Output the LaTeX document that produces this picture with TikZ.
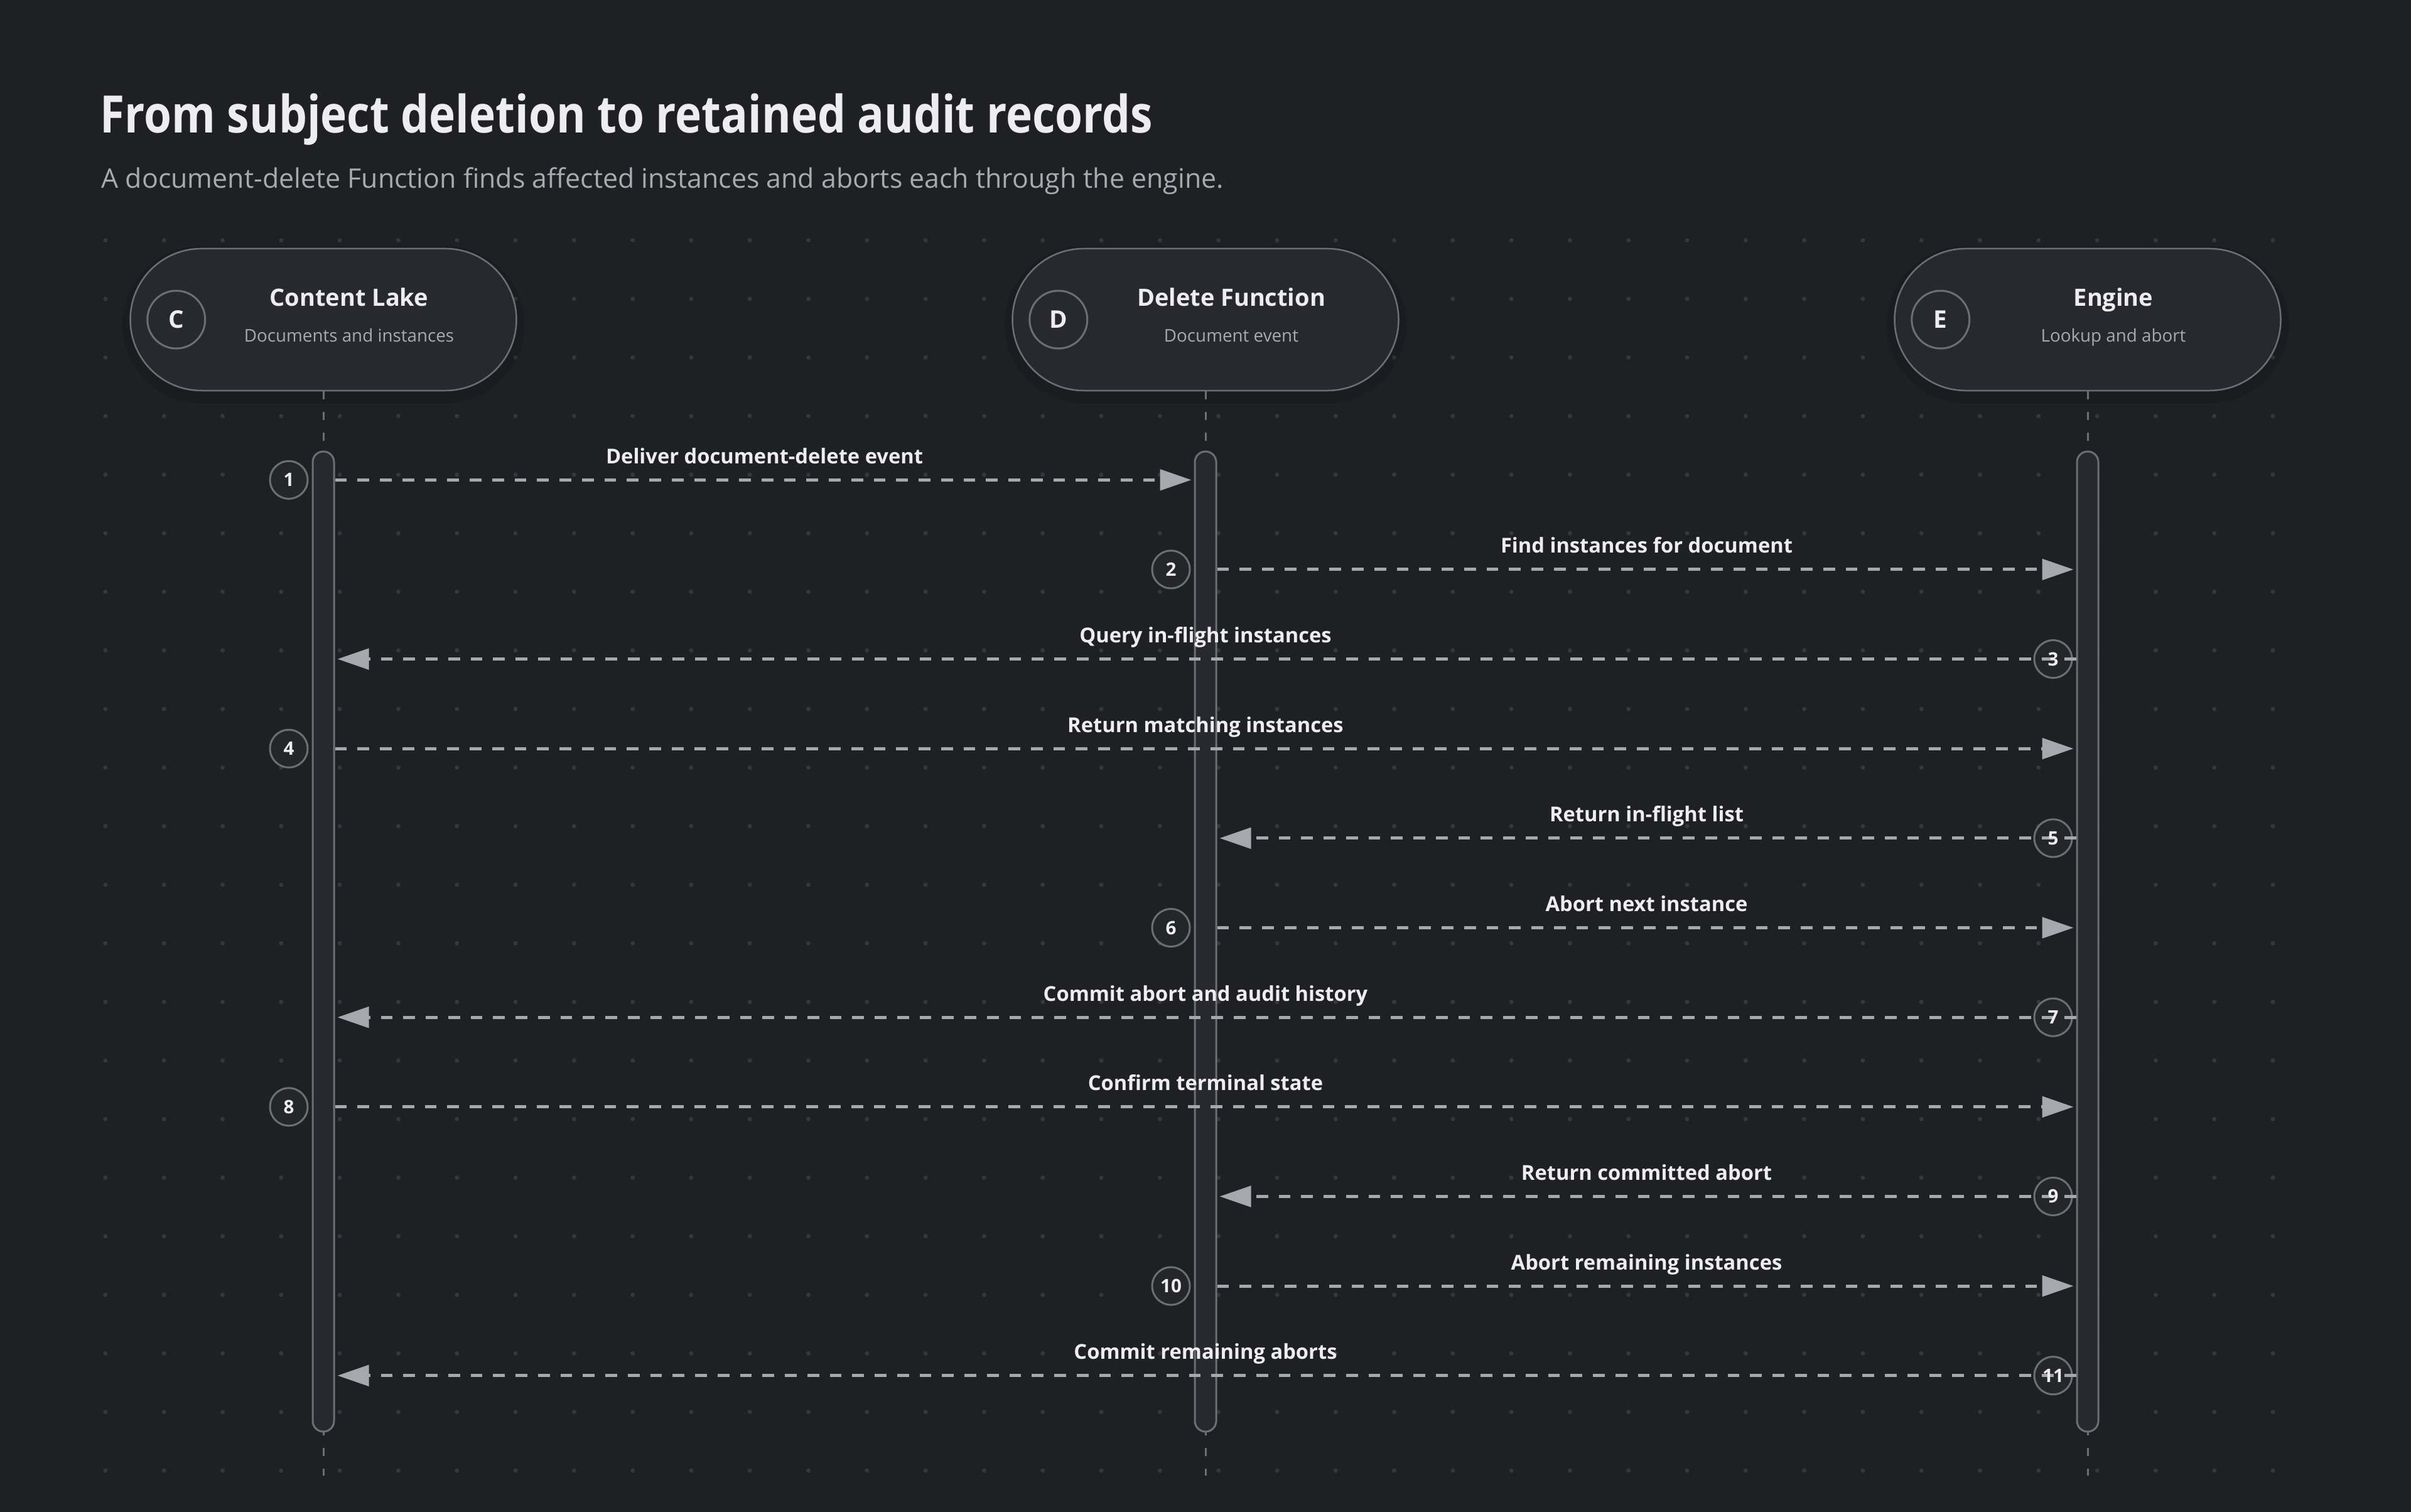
\documentclass[tikz,border=0pt]{standalone}
\usepackage{fontspec}
\setmainfont{Open Sans}
\usetikzlibrary{arrows.meta,calc,positioning}

\definecolor{bgc}{HTML}{1F2024}
\definecolor{panel}{HTML}{28292E}
\definecolor{edge}{HTML}{6E6F75}
\definecolor{dotc}{HTML}{36373C}
\definecolor{wire}{HTML}{A7A8AE}
\definecolor{ink}{HTML}{EDEDEF}
\definecolor{muted}{HTML}{A9AAB0}
\definecolor{badgefill}{HTML}{25262A}

\tikzset{
  lane/.style={draw=edge, line width=0.025cm, fill=panel, rounded corners=1.13cm,
    minimum width=6.15cm, minimum height=2.26cm, inner sep=0pt},
  laneshade/.style={fill=black, opacity=0.12, rounded corners=1.25cm,
    minimum width=6.4cm, minimum height=2.5cm, inner sep=0pt},
  lanebadge/.style={circle, draw=edge, line width=0.03cm, fill=panel, minimum size=0.92cm,
    inner sep=0pt, text=ink, font=\bfseries\fontsize{11}{13}\selectfont},
  lanetitle/.style={anchor=base, inner sep=0pt, text=ink, font=\bfseries\fontsize{10.8}{13}\selectfont},
  lanesub/.style={anchor=base, inner sep=0pt, text=muted, font=\fontsize{7.9}{9}\selectfont},
  lifeline/.style={draw=edge, line width=0.03cm, dash pattern=on 0.13cm off 0.2cm},
  actbar/.style={draw=edge, line width=0.03cm, fill=panel, rounded corners=0.17cm,
    minimum width=0.34cm, minimum height=15.61cm, inner sep=0pt},
  stepbadge/.style={circle, draw=edge, line width=0.03cm, fill=badgefill, minimum size=0.6cm, inner sep=0pt},
  stepnum/.style={inner sep=0pt, text=ink, font=\bfseries\fontsize{8.4}{10}\selectfont},
  msg/.style={draw=wire, line width=0.05cm, dash pattern=on 0.1875cm off 0.17cm,
    -{Triangle[length=0.5cm,width=0.33cm,fill=wire]}, shorten >=0.04cm},
  msglabel/.style={anchor=base, inner sep=0pt, text=ink, font=\bfseries\fontsize{9.3}{11}\selectfont}
}

\begin{document}
\begin{tikzpicture}
  \useasboundingbox (0,0) rectangle (38.4,-24.08);
  \fill[bgc] (0,0) rectangle (38.4,-24.08);

  \foreach \c in {0,...,37}
    \foreach \r in {0,...,21}
      \fill[dotc] (1.679+0.933*\c,-3.827-0.933*\r) circle (0.035);

  \node[anchor=base west, inner sep=0pt, text=ink, font=\bfseries\fontsize{23.4}{28}\selectfont]
    (title) at (1.59,-2.117) {\scalebox{0.865}[1]{From subject deletion to retained audit records}};
  \node[anchor=base west, inner sep=0pt, text=muted, font=\fontsize{12.2}{14}\selectfont]
    (subtitle) at (1.61,-2.993) {A document-delete Function finds affected instances and aborts each through the engine.};

  \node[laneshade] (shC) at (5.15,-5.17) {};
  \node[laneshade] (shD) at (19.2,-5.17) {};
  \node[laneshade] (shE) at (33.25,-5.17) {};
  \node[lane] (hdC) at (5.15,-5.09) {};
  \node[lane] (hdD) at (19.2,-5.09) {};
  \node[lane] (hdE) at (33.25,-5.09) {};

  \coordinate (endC) at (5.15,-23.5);
  \coordinate (endD) at (19.2,-23.5);
  \coordinate (endE) at (33.25,-23.5);
  \draw[lifeline] (hdC.south) -- (endC);
  \draw[lifeline] (hdD.south) -- (endD);
  \draw[lifeline] (hdE.south) -- (endE);

  \foreach \k/\name/\desc in {C/{Content Lake}/{Documents and instances},
                              D/{Delete Function}/{Document event},
                              E/{Engine}/{Lookup and abort}}{
    \node[lanebadge, right=0.27cm of hd\k.west] (bd\k) {\k};
    \node[lanetitle] (tt\k) at ($(hd\k.center)+(0.41,0.213)$) {\name};
    \node[lanesub] (st\k) at ($(hd\k.center)+(0.41,-0.35)$) {\desc};
  }

  \node[actbar] (actC) at (5.15,-14.995) {};
  \node[actbar] (actD) at (19.2,-14.995) {};
  \node[actbar] (actE) at (33.25,-14.995) {};

  \foreach \i/\src/\dst/\sa/\da/\txt in {
      1/C/D/east/west/{Deliver document-delete event},
      2/D/E/east/west/{Find instances for document},
      3/E/C/west/east/{Query in-flight instances},
      4/C/E/east/west/{Return matching instances},
      5/E/D/west/east/{Return in-flight list},
      6/D/E/east/west/{Abort next instance},
      7/E/C/west/east/{Commit abort and audit history},
      8/C/E/east/west/{Confirm terminal state},
      9/E/D/west/east/{Return committed abort},
      10/D/E/east/west/{Abort remaining instances},
      11/E/C/west/east/{Commit remaining aborts}}{
    \pgfmathsetmacro\yy{-7.643-1.4264*(\i-1)}
    \node[stepbadge] (n\i) at ($(hd\src.center |- 0,\yy)+(-0.55,0)$) {};
    \draw[msg] (act\src.\sa |- n\i) -- (act\dst.\da |- n\i);
    \node[stepnum] at (n\i) {\i};
    \node[msglabel] (lb\i) at ($(hd\src.center |- n\i)!0.5!(hd\dst.center |- n\i)+(0,0.26)$) {\txt};
  }
\end{tikzpicture}
\end{document}
